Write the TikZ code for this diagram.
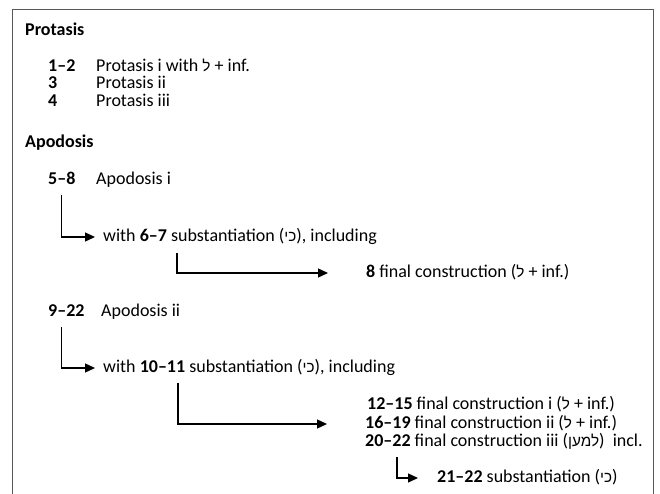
\documentclass[tikz,border=0pt]{standalone}
\usepackage{fontspec}
\setmainfont{Carlito}
\newfontfamily\hebfont[Script=Hebrew,Scale=0.85]{Liberation Sans}
\TeXXeTstate=1
\newcommand{\heb}[1]{{\hebfont\beginR #1\endR}}
\usetikzlibrary{positioning, arrows.meta}

\tikzset{
  txt/.style={anchor=west, inner sep=0pt, font=\fontsize{18}{20}\selectfont,
    text height=11.5pt, text depth=3pt},
  link/.style={black, line width=1.3pt, -{Triangle[length=10pt,width=9pt]}},
}

\begin{document}
\begin{tikzpicture}[x=1pt,y=-1pt]
  \useasboundingbox (0,0) rectangle (660,494);
  \draw[black!65, line width=0.9pt] (12,494) -- (12,9) -- (653,9) -- (653,494);

  \draw (25,31) node[txt] (prot) {\textbf{Protasis}};

  \draw (48,67.5) node[txt] (n12) {\textbf{1–2}};
  \draw (96,67.5) node[txt] (p1) {Protasis i with \heb{ל} + inf.};
  \draw (48,84.5) node[txt] (n3) {\textbf{3}};
  \draw (96,84.5) node[txt] (p2) {Protasis ii};
  \draw (48,102) node[txt] (n4) {\textbf{4}};
  \draw (96,102) node[txt] (p3) {Protasis iii};

  \draw (25,143) node[txt] (apod) {\textbf{Apodosis}};

  \draw (48,180) node[txt] (n58) {\textbf{5–8}};
  \draw (96,180) node[txt] (a1) {Apodosis i};
  \draw (103,237) node[txt] (w1) {with \textbf{6–7} substantiation (\heb{כי}), including};
  \draw (366,273) node[txt] (f8) {\textbf{8} final construction (\heb{ל} + inf.)};

  \draw (48,312) node[txt] (n922) {\textbf{9–22}};
  \draw (101,312) node[txt] (a2) {Apodosis ii};
  \draw (103,368) node[txt] (w2) {with \textbf{10–11} substantiation (\heb{כי}), including};

  \draw (367,405) node[txt] (f1) {\textbf{12–15} final construction i (\heb{ל} + inf.)};
  \draw (365,424) node[txt] (f2) {\textbf{16–19} final construction ii (\heb{ל} + inf.)};
  \draw (365,442) node[txt] (f3) {\textbf{20–22} final construction iii (\heb{למען})\ \ incl.};
  \draw (437,478) node[txt] (s22) {\textbf{21–22} substantiation (\heb{כי})};

  \coordinate (c1) at (177,253);
  \coordinate (c2) at (178,383);
  \coordinate (c3) at (397,457);

  \draw[link, shorten <=8pt, shorten >=8pt] (n58.south) |- (w1.west);
  \draw[link, shorten >=38pt] (c1) |- (f8.west);
  \draw[link, shorten <=8pt, shorten >=8pt] (n922.south -| n58) |- (w2.west);
  \draw[link, shorten >=38pt] (c2) |- (f2.west);
  \draw[link, shorten >=19pt] (c3) |- (s22.west);

\end{tikzpicture}
\end{document}
